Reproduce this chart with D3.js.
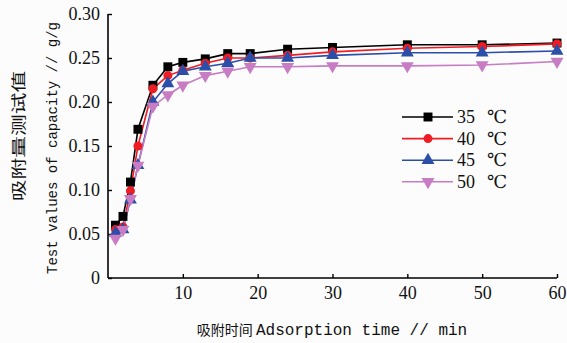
<!DOCTYPE html>
<html><head><meta charset="utf-8">
<script src="https://cdn.jsdelivr.net/npm/d3@7"></script>
<style>
html,body{margin:0;padding:0;background:#fcfcfc;}
svg{display:block;}
</style></head>
<body>
<svg id="chart" width="567" height="343"></svg>
<script>
const times = [1, 2, 3, 4, 6, 8, 10, 13, 16, 19, 24, 30, 40, 50, 60];
const s35 = [0.060, 0.070, 0.109, 0.169, 0.219, 0.240, 0.245, 0.249, 0.255, 0.255, 0.260, 0.262, 0.265, 0.265, 0.267];
const s40 = [0.055, 0.058, 0.099, 0.150, 0.215, 0.230, 0.236, 0.244, 0.250, 0.250, 0.253, 0.257, 0.261, 0.263, 0.266];
const s45 = [0.051, 0.055, 0.089, 0.128, 0.200, 0.221, 0.235, 0.240, 0.244, 0.250, 0.250, 0.253, 0.256, 0.256, 0.258];
const s50 = [0.045, 0.055, 0.090, 0.128, 0.195, 0.208, 0.219, 0.230, 0.235, 0.240, 0.240, 0.241, 0.241, 0.242, 0.246];
const seriesNames = ["35 \u2103", "40 \u2103", "45 \u2103", "50 \u2103"];
const xTicks = [10, 20, 30, 40, 50, 60];
const yTicks = [0, 0.05, 0.10, 0.15, 0.20, 0.25, 0.30];
const yTickLabels = ["0", "0.05", "0.10", "0.15", "0.20", "0.25", "0.30"];

const colors = ["#000000", "#ee1c24", "#2b4ea8", "#c77cc3"];
const shapes = [d3.symbolSquare, d3.symbolCircle, d3.symbolTriangle, "down"];
const sizes = [80, 64, 72, 72];
const allSeries = [s35, s40, s45, s50];

const SERIF = "Liberation Serif, Times New Roman, Tinos, DejaVu Serif, serif";
const MONO = "Liberation Mono, DejaVu Sans Mono, monospace";
const CJK = "Noto Sans CJK SC, sans-serif";

const svg = d3.select("#chart");
const x = d3.scaleLinear().domain([0, 60]).range([108, 557]);
const y = d3.scaleLinear().domain([0, 0.30]).range([278, 14]);

const xAxis = d3.axisBottom(x).tickValues(xTicks).tickSizeInner(-4).tickSizeOuter(0).tickPadding(8);
const gx = svg.append("g").attr("transform", `translate(0,${y(0)})`).call(xAxis);
gx.attr("font-family", SERIF).attr("font-size", 18);
gx.select(".domain").attr("stroke", "#000").attr("stroke-width", 1.6).attr("d", `M${x(0)},0H${x(60)}`);
gx.selectAll(".tick line").attr("stroke-width", 1.4);
gx.selectAll("text").attr("fill", "#111");

const yAxis = d3.axisLeft(y).tickValues(yTicks).tickFormat((d, i) => yTickLabels[i]).tickSizeInner(-4).tickSizeOuter(0).tickPadding(8);
const gy = svg.append("g").attr("transform", `translate(${x(0)},0)`).call(yAxis);
gy.attr("font-family", SERIF).attr("font-size", 18);
gy.select(".domain").attr("stroke", "#000").attr("stroke-width", 1.6).attr("d", `M0,${y(0)}V${y(0.30)}`);
gy.selectAll(".tick line").attr("stroke-width", 1.4);
gy.selectAll("text").attr("fill", "#111");

function symPath(shape, size) {
  return d3.symbol().type(shape === "down" ? d3.symbolTriangle : shape).size(size)();
}
const line = d3.line().x(d => x(d[0])).y(d => y(d[1]));
allSeries.forEach((vals, si) => {
  const pts = times.map((t, i) => [t, vals[i]]);
  svg.append("path").datum(pts).attr("d", line).attr("fill", "none")
    .attr("stroke", colors[si]).attr("stroke-width", 1.6);
});
allSeries.forEach((vals, si) => {
  const pts = times.map((t, i) => [t, vals[i]]);
  svg.append("g").selectAll("path").data(pts).join("path")
    .attr("d", symPath(shapes[si], sizes[si]))
    .attr("transform", d => `translate(${x(d[0])},${y(d[1])})` + (shapes[si] === "down" ? " rotate(180)" : ""))
    .attr("fill", colors[si]);
});

const lg = svg.append("g").attr("font-family", SERIF).attr("font-size", 18);
seriesNames.forEach((name, i) => {
  const ly = 117 + i * 21.6;
  lg.append("line").attr("x1", 402).attr("x2", 453).attr("y1", ly).attr("y2", ly)
    .attr("stroke", colors[i]).attr("stroke-width", 1.6);
  lg.append("path").attr("d", symPath(shapes[i], sizes[i]))
    .attr("transform", `translate(428,${ly})` + (shapes[i] === "down" ? " rotate(180)" : ""))
    .attr("fill", colors[i]);
  const parts = name.split(" ");
  lg.append("text").attr("x", 457).attr("y", ly + 6).attr("fill", "#111").text(parts[0]);
  lg.append("text").attr("x", 487).attr("y", ly + 6).attr("fill", "#111").text(parts[1]);
});

svg.append("text").attr("transform", "translate(24,136) rotate(-90) scale(1.45,1)")
  .attr("text-anchor", "middle").attr("font-family", CJK)
  .attr("font-size", 15).attr("fill", "#111").text("吸附量测试值");
svg.append("text").attr("transform", "translate(57,148) rotate(-90)")
  .attr("text-anchor", "middle").attr("font-family", MONO)
  .attr("font-size", 14).attr("fill", "#111").text("Test values of capacity // g/g");
const xt = svg.append("text").attr("x", 332).attr("y", 335).attr("text-anchor", "middle")
  .attr("fill", "#111");
xt.append("tspan").attr("font-family", CJK).attr("font-size", 14).text("吸附时间 ");
xt.append("tspan").attr("font-family", MONO).attr("font-size", 16).text("Adsorption time // min");
</script>
</body></html>
